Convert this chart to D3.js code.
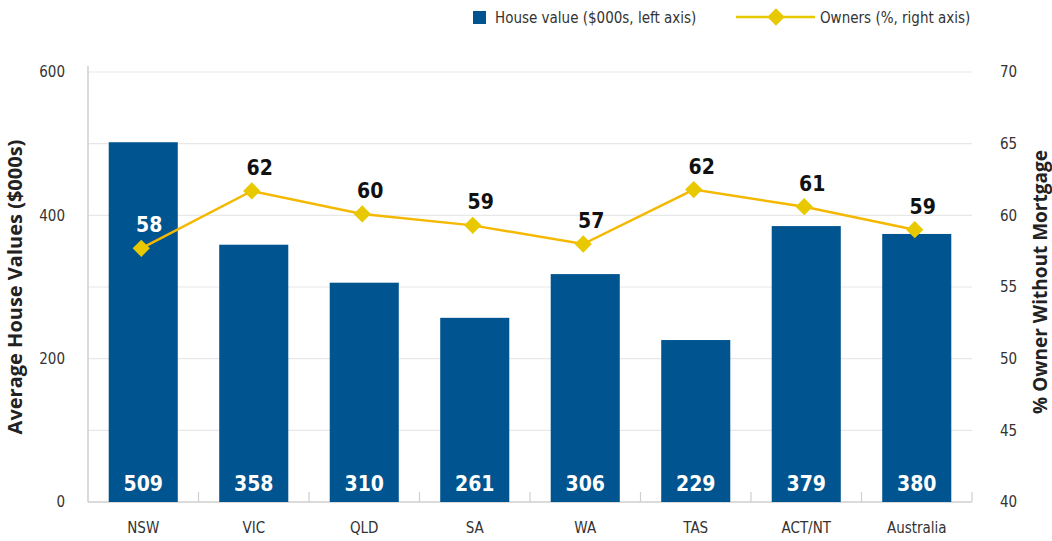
<!DOCTYPE html>
<html>
<head>
<meta charset="utf-8">
<script src="https://cdn.jsdelivr.net/npm/d3@7"></script>
<style>
  body { margin: 0; background: #fff; }
  svg { display: block; }
  .narrow { font-family: "Liberation Sans Narrow", "DejaVu Sans Condensed", "Open Sans", sans-serif; }
  .title { font-family: "Open Sans", "Noto Sans", sans-serif; font-weight: bold; }
</style>
</head>
<body>
<div id="chart"></div>
<script>
// data
var states = ["NSW", "VIC", "QLD", "SA", "WA", "TAS", "ACT/NT", "Australia"];
var houseValues = [502, 359, 306, 257, 318, 226, 385, 374];   // bar heights
var houseLabels = ["509", "358", "310", "261", "306", "229", "379", "380"];
var ownerValues = [57.7, 61.7, 60.1, 59.3, 58.0, 61.8, 60.6, 59.0];
var ownerLabels = ["58", "62", "60", "59", "57", "62", "61", "59"];
var leftTicks = [0, 100, 200, 300, 400, 500, 600];
var leftTickLabels = [0, 200, 400, 600];
var rightTicks = [40, 45, 50, 55, 60, 65, 70];

var width = 1052, height = 541;
var plotLeft = 88, plotRight = 972, plotTop = 72, plotBottom = 502;
var barColor = "#00548f";
var lineColor = "#f5b800";
var markColor = "#e8c800";

var svg = d3.select("#chart").append("svg")
    .attr("width", width)
    .attr("height", height);

var x = d3.scaleBand().domain(states).range([plotLeft, plotRight])
    .paddingInner(0.375).paddingOuter(0.1875);
var y = d3.scaleLinear().domain([0, 600]).range([plotBottom, plotTop]);
var y2 = d3.scaleLinear().domain([40, 70]).range([plotBottom, plotTop]);
var cx = function(i){ return x(states[i]) + x.bandwidth() / 2; };

// gridlines
svg.append("g")
   .selectAll("line")
   .data(leftTicks.filter(function(d){ return d > 0; }))
   .enter().append("line")
   .attr("x1", plotLeft).attr("x2", plotRight)
   .attr("y1", function(d){ return y(d); })
   .attr("y2", function(d){ return y(d); })
   .attr("stroke", "#e8e8e8")
   .attr("stroke-width", 1.2);

// left axis
var yAxis = d3.axisLeft(y).tickValues(leftTickLabels).tickSize(0).tickPadding(23);
var gy = svg.append("g").attr("class", "narrow")
   .attr("transform", "translate(" + plotLeft + ",0)")
   .call(yAxis);
gy.select(".domain").remove();
gy.attr("font-family", null).attr("font-size", null);
gy.selectAll("text").attr("font-size", 15).attr("fill", "#333");
svg.append("line")
   .attr("x1", plotLeft).attr("x2", plotLeft).attr("y1", plotTop - 6).attr("y2", plotBottom)
   .attr("stroke", "#cfcfcf").attr("stroke-width", 1.5);

// right axis
var yAxis2 = d3.axisRight(y2).tickValues(rightTicks).tickSize(0).tickPadding(28);
var gy2 = svg.append("g").attr("class", "narrow")
   .attr("transform", "translate(" + plotRight + ",0)")
   .call(yAxis2);
gy2.select(".domain").remove();
gy2.attr("font-family", null).attr("font-size", null);
gy2.selectAll("text").attr("font-size", 15).attr("fill", "#333");

// x axis
svg.append("line")
   .attr("x1", plotLeft).attr("x2", plotRight).attr("y1", plotBottom).attr("y2", plotBottom)
   .attr("stroke", "#cfcfcf").attr("stroke-width", 1.5);
var gap = (x.step() - x.bandwidth()) / 2;
svg.append("g")
   .selectAll("line")
   .data(states)
   .enter().append("line")
   .attr("x1", function(d){ return x(d) + x.bandwidth() + gap; })
   .attr("x2", function(d){ return x(d) + x.bandwidth() + gap; })
   .attr("y1", plotBottom - 10).attr("y2", plotBottom)
   .attr("stroke", "#cfcfcf").attr("stroke-width", 1.2);
svg.append("g").attr("class", "narrow")
   .selectAll("text")
   .data(states)
   .enter().append("text")
   .attr("x", function(d, i){ return cx(i); })
   .attr("y", 533)
   .attr("text-anchor", "middle")
   .attr("font-size", 15)
   .attr("fill", "#333")
   .text(function(d){ return d; });

// bars
svg.append("g")
   .selectAll("rect")
   .data(houseValues)
   .enter().append("rect")
   .attr("x", function(d, i){ return x(states[i]); })
   .attr("y", function(d){ return y(d); })
   .attr("width", x.bandwidth())
   .attr("height", function(d){ return plotBottom - y(d); })
   .attr("fill", barColor);

svg.append("g").attr("class", "narrow")
   .selectAll("text")
   .data(houseLabels)
   .enter().append("text")
   .attr("x", function(d, i){ return cx(i); })
   .attr("y", 491)
   .attr("text-anchor", "middle")
   .attr("font-size", 21)
   .attr("font-weight", "bold")
   .attr("fill", "#fff")
   .text(function(d){ return d; });

// owners line
var line = d3.line()
   .x(function(d, i){ return cx(i) - 2; })
   .y(function(d){ return y2(d); });

svg.append("path")
   .datum(ownerValues)
   .attr("d", line)
   .attr("fill", "none")
   .attr("stroke", lineColor)
   .attr("stroke-width", 2.5);

var diamond = d3.symbol().type(d3.symbolDiamond2).size(190);
svg.append("g")
   .selectAll("path")
   .data(ownerValues)
   .enter().append("path")
   .attr("d", diamond)
   .attr("transform", function(d, i){
      return "translate(" + (cx(i) - 2) + "," + y2(d) + ")";
   })
   .attr("fill", markColor);

svg.append("g").attr("class", "narrow")
   .selectAll("text")
   .data(ownerLabels)
   .enter().append("text")
   .attr("x", function(d, i){ return cx(i) + 6; })
   .attr("y", function(d, i){ return y2(ownerValues[i]) - 16; })
   .attr("text-anchor", "middle")
   .attr("font-size", 21)
   .attr("font-weight", "bold")
   .attr("fill", function(d, i){ return i === 0 ? "#fff" : "#111"; })
   .text(function(d){ return d; });

// axis titles
svg.append("text").attr("class", "title")
   .attr("transform", "translate(22,287) rotate(-90)")
   .attr("text-anchor", "middle")
   .attr("font-size", 20)
   .attr("fill", "#222")
   .text("Average House Values ($000s)");

svg.append("text").attr("class", "title")
   .attr("transform", "translate(1047,282) rotate(-90)")
   .attr("text-anchor", "middle")
   .attr("font-size", 19)
   .attr("fill", "#222")
   .text("% Owner Without Mortgage");

// legend
var lg = svg.append("g").attr("class", "narrow");
lg.append("rect").attr("x", 473).attr("y", 11).attr("width", 13).attr("height", 13).attr("fill", barColor);
lg.append("text").attr("x", 495).attr("y", 23).attr("font-size", 15).attr("fill", "#333")
  .text("House value ($000s, left axis)");
lg.append("line").attr("x1", 736).attr("x2", 815).attr("y1", 17).attr("y2", 17)
  .attr("stroke", markColor).attr("stroke-width", 2.5);
lg.append("path").attr("d", diamond).attr("transform", "translate(776,17)").attr("fill", markColor);
lg.append("text").attr("x", 820).attr("y", 23).attr("font-size", 15).attr("fill", "#333")
  .text("Owners (%, right axis)");
</script>
</body>
</html>
